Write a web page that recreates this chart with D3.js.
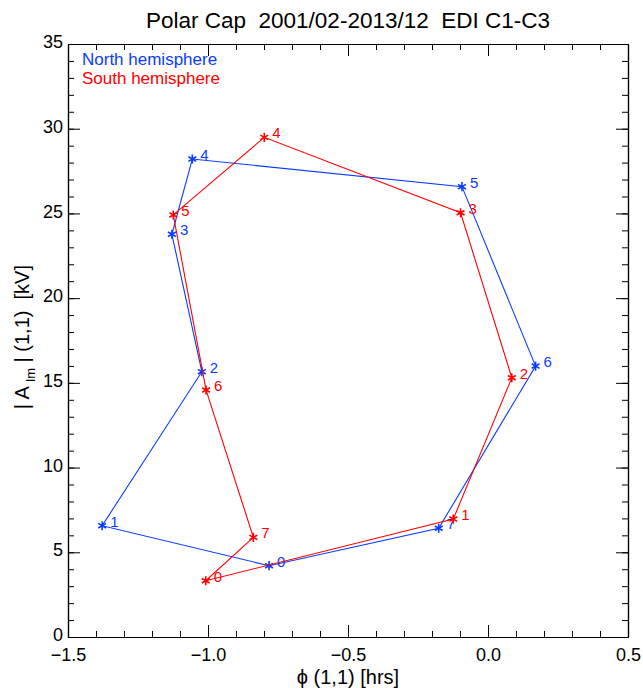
<!DOCTYPE html>
<html>
<head>
<meta charset="utf-8">
<script src="https://cdn.jsdelivr.net/npm/d3@7"></script>
<style>
  body { margin: 0; background: #fff; }
  text { font-family: "Liberation Sans", Arial, Helvetica, sans-serif; }
</style>
</head>
<body>
<div id="chart"></div>
<script>
// data: phase (hrs) and amplitude (kV) per index 0..7
const labels = ['0', '1', '2', '3', '4', '5', '6', '7']
const northPhase = [-0.782, -1.378, -1.022, -1.129, -1.056, -0.093, 0.170, -0.176]
const northAmp = [4.21, 6.57, 15.66, 23.77, 28.21, 26.58, 15.99, 6.42]
const southPhase = [-1.008, -0.124, 0.085, -0.098, -0.799, -1.124, -1.007, -0.838]
const southAmp = [3.32, 6.96, 15.30, 25.04, 29.49, 24.91, 14.58, 5.88]
const xTicks = [-1.5, -1.0, -0.5, 0.0, 0.5]
const yTicks = [0, 5, 10, 15, 20, 25, 30, 35]

const width = 643
const height = 688
const margin = { top: 44, right: 15, bottom: 51, left: 68 }
const blue = '#0a3cff'
const red = '#ff0000'

const x = d3.scaleLinear()
  .domain([-1.5, 0.5])
  .range([margin.left, width - margin.right])

const y = d3.scaleLinear()
  .domain([0, 35])
  .range([height - margin.bottom, margin.top])

const svg = d3.select('#chart').append('svg')
  .attr('width', width)
  .attr('height', height)

const xMinor = d3.range(-1.5, 0.51, 0.1)
const yMinor = d3.range(0, 35.1, 1)

function styleAxis (g) {
  g.select('.domain').attr('stroke', '#000').attr('stroke-width', 1.2)
  g.selectAll('.tick line').attr('stroke', '#000').attr('stroke-width', 1)
  g.selectAll('.tick text').attr('fill', '#000').style('font-size', '18px')
}

// bottom axis with labels
svg.append('g')
  .attr('transform', `translate(0,${y(0)})`)
  .call(d3.axisBottom(x).tickValues(xTicks).tickFormat(d3.format('.1f')).tickSizeInner(-12).tickSizeOuter(0))
  .call(styleAxis)
  .call(g => g.selectAll('.tick text').attr('y', 11))
svg.append('g')
  .attr('transform', `translate(0,${y(0)})`)
  .call(d3.axisBottom(x).tickValues(xMinor).tickFormat('').tickSizeInner(-6).tickSizeOuter(0))
  .call(styleAxis)

// top axis, ticks only
svg.append('g')
  .attr('transform', `translate(0,${y(35)})`)
  .call(d3.axisTop(x).tickValues(xTicks).tickFormat('').tickSizeInner(-12).tickSizeOuter(0))
  .call(styleAxis)
svg.append('g')
  .attr('transform', `translate(0,${y(35)})`)
  .call(d3.axisTop(x).tickValues(xMinor).tickFormat('').tickSizeInner(-6).tickSizeOuter(0))
  .call(styleAxis)

// left axis with labels
svg.append('g')
  .attr('transform', `translate(${x(-1.5)},0)`)
  .call(d3.axisLeft(y).tickValues(yTicks).tickFormat(d3.format('d')).tickSizeInner(-12).tickSizeOuter(0))
  .call(styleAxis)
  .call(g => g.selectAll('.tick text').attr('x', -5).attr('dy', '0.2em'))
svg.append('g')
  .attr('transform', `translate(${x(-1.5)},0)`)
  .call(d3.axisLeft(y).tickValues(yMinor).tickFormat('').tickSizeInner(-6).tickSizeOuter(0))
  .call(styleAxis)

// right axis, ticks only
svg.append('g')
  .attr('transform', `translate(${x(0.5)},0)`)
  .call(d3.axisRight(y).tickValues(yTicks).tickFormat('').tickSizeInner(-12).tickSizeOuter(0))
  .call(styleAxis)
svg.append('g')
  .attr('transform', `translate(${x(0.5)},0)`)
  .call(d3.axisRight(y).tickValues(yMinor).tickFormat('').tickSizeInner(-6).tickSizeOuter(0))
  .call(styleAxis)

// title
svg.append('text')
  .attr('x', x(-0.5))
  .attr('y', 28)
  .attr('text-anchor', 'middle')
  .style('font-size', '22.5px')
  .style('white-space', 'pre')
  .text('Polar Cap  2001/02-2013/12  EDI C1-C3')

// axis titles
svg.append('text')
  .attr('x', x(-0.5))
  .attr('y', 684)
  .attr('text-anchor', 'middle')
  .style('font-size', '20px')
  .text('ϕ (1,1) [hrs]')

const yl = svg.append('text')
  .attr('transform', `translate(29,${y(17.7)}) rotate(-90)`)
  .attr('text-anchor', 'middle')
  .style('font-size', '20px')
  .style('white-space', 'pre')
yl.append('tspan').text('| A ')
yl.append('tspan').attr('dy', 6).style('font-size', '13px').text('lm')
yl.append('tspan').attr('dy', -6).text(' | (1,1)  [kV]')

// legend
svg.append('text')
  .attr('x', 82).attr('y', 65)
  .attr('fill', blue)
  .style('font-size', '17px')
  .text('North hemisphere')
svg.append('text')
  .attr('x', 82).attr('y', 84)
  .attr('fill', red)
  .style('font-size', '17px')
  .text('South hemisphere')

const star = d3.symbol().type(d3.symbolAsterisk).size(58)

function drawSeries (phase, amp, color) {
  const pts = phase.map((p, i) => ({ x: p, y: amp[i], label: labels[i] }))
  const line = d3.line().x(d => x(d.x)).y(d => y(d.y)).curve(d3.curveLinearClosed)

  svg.append('path')
    .datum(pts)
    .attr('d', line)
    .attr('fill', 'none')
    .attr('stroke', color)
    .attr('stroke-width', 1.1)

  svg.selectAll(null)
    .data(pts).enter()
    .append('path')
    .attr('d', star)
    .attr('transform', d => `translate(${x(d.x)},${y(d.y)})`)
    .attr('fill', 'none')
    .attr('stroke', color)
    .attr('stroke-width', 1.6)

  svg.selectAll(null)
    .data(pts).enter()
    .append('text')
    .attr('x', d => x(d.x) + 8)
    .attr('y', d => y(d.y) + 1)
    .attr('fill', color)
    .style('font-size', '15px')
    .text(d => d.label)
}

drawSeries(northPhase, northAmp, blue)
drawSeries(southPhase, southAmp, red)
</script>
</body>
</html>
